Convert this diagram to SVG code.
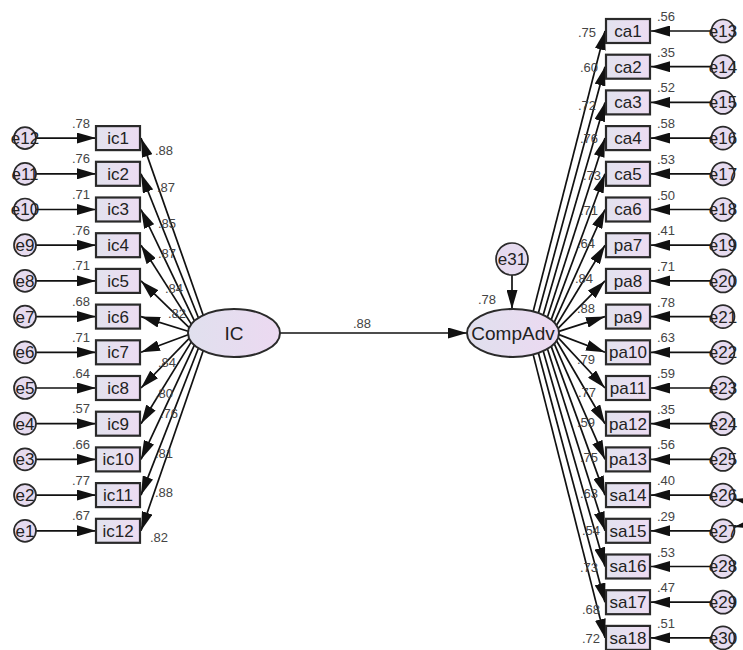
<svg xmlns="http://www.w3.org/2000/svg" width="743" height="650" viewBox="0 0 743 650">
<defs>
<linearGradient id="gb" x1="0" y1="0" x2="1" y2="0"><stop offset="0" stop-color="#e2e2ee"/><stop offset="1" stop-color="#eddcf2"/></linearGradient>
<linearGradient id="ge" x1="0" y1="0" x2="1" y2="0"><stop offset="0" stop-color="#e0e0ee"/><stop offset="1" stop-color="#ecd9f1"/></linearGradient>
<marker id="ah" viewBox="0 0 19 11" refX="19" refY="5.5" markerWidth="19" markerHeight="11" markerUnits="userSpaceOnUse" orient="auto"><path d="M0,0 L19,5.5 L0,11 z" fill="#111"/></marker>
<marker id="ah2" viewBox="0 0 16 9" refX="16" refY="4.5" markerWidth="16" markerHeight="9" markerUnits="userSpaceOnUse" orient="auto-start-reverse"><path d="M0,0 L16,4.5 L0,9 z" fill="#111"/></marker>
</defs>
<style>
.box{fill:url(#gb);stroke:#2a2a2a;stroke-width:2.2}
.err{fill:#e6dbef;stroke:#2a2a2a;stroke-width:1.7}
.lat{fill:url(#ge);stroke:#2a2a2a;stroke-width:2}
.t{font-family:"Liberation Sans",Arial,sans-serif;font-size:17px;fill:#222;text-anchor:middle}
.tl{font-family:"Liberation Sans",Arial,sans-serif;font-size:19px;fill:#222;text-anchor:middle}
.n{font-family:"Liberation Sans",Arial,sans-serif;font-size:13px;fill:#444}
.c{fill:none;stroke:#111;stroke-width:1.7;marker-end:url(#ah)}
</style>
<rect width="743" height="650" fill="#fff"/>

<g id="connectors">
<line class="c" x1="36" y1="138.1" x2="96" y2="138.1"/>
<line class="c" x1="36" y1="173.8" x2="96" y2="173.8"/>
<line class="c" x1="36" y1="209.5" x2="96" y2="209.5"/>
<line class="c" x1="36" y1="245.2" x2="96" y2="245.2"/>
<line class="c" x1="36" y1="280.9" x2="96" y2="280.9"/>
<line class="c" x1="36" y1="316.6" x2="96" y2="316.6"/>
<line class="c" x1="36" y1="352.3" x2="96" y2="352.3"/>
<line class="c" x1="36" y1="388" x2="96" y2="388"/>
<line class="c" x1="36" y1="423.7" x2="96" y2="423.7"/>
<line class="c" x1="36" y1="459.4" x2="96" y2="459.4"/>
<line class="c" x1="36" y1="495.1" x2="96" y2="495.1"/>
<line class="c" x1="36" y1="530.8" x2="96" y2="530.8"/>
<line class="c" x1="203.2" y1="315.2" x2="141" y2="138.1"/>
<line class="c" x1="198.4" y1="317.8" x2="141" y2="173.8"/>
<line class="c" x1="194.4" y1="320.8" x2="141" y2="209.5"/>
<line class="c" x1="191.3" y1="324.1" x2="141" y2="245.2"/>
<line class="c" x1="189.2" y1="327.6" x2="141" y2="280.9"/>
<line class="c" x1="188.1" y1="331.2" x2="141" y2="316.6"/>
<line class="c" x1="188.1" y1="334.8" x2="141" y2="352.3"/>
<line class="c" x1="189.2" y1="338.4" x2="141" y2="388"/>
<line class="c" x1="191.3" y1="341.9" x2="141" y2="423.7"/>
<line class="c" x1="194.4" y1="345.2" x2="141" y2="459.4"/>
<line class="c" x1="198.4" y1="348.2" x2="141" y2="495.1"/>
<line class="c" x1="203.2" y1="350.8" x2="141" y2="530.8"/>
<line class="c" x1="280" y1="333" x2="467" y2="333"/>
<line class="c" x1="512" y1="275" x2="512" y2="309"/>
<line class="c" x1="533.2" y1="311.4" x2="605" y2="31"/>
<line class="c" x1="538.4" y1="313" x2="605" y2="66.7"/>
<line class="c" x1="543.2" y1="314.9" x2="605" y2="102.4"/>
<line class="c" x1="547.5" y1="317.1" x2="605" y2="138.1"/>
<line class="c" x1="551.2" y1="319.6" x2="605" y2="173.8"/>
<line class="c" x1="554.2" y1="322.3" x2="605" y2="209.5"/>
<line class="c" x1="556.5" y1="325.3" x2="605" y2="245.2"/>
<line class="c" x1="558.1" y1="328.3" x2="605" y2="280.9"/>
<line class="c" x1="558.9" y1="331.4" x2="605" y2="316.6"/>
<line class="c" x1="558.9" y1="334.6" x2="605" y2="352.3"/>
<line class="c" x1="558.1" y1="337.7" x2="605" y2="388"/>
<line class="c" x1="556.5" y1="340.7" x2="605" y2="423.7"/>
<line class="c" x1="554.2" y1="343.7" x2="605" y2="459.4"/>
<line class="c" x1="551.2" y1="346.4" x2="605" y2="495.1"/>
<line class="c" x1="547.5" y1="348.9" x2="605" y2="530.8"/>
<line class="c" x1="543.2" y1="351.1" x2="605" y2="566.5"/>
<line class="c" x1="538.4" y1="353" x2="605" y2="602.2"/>
<line class="c" x1="533.2" y1="354.6" x2="605" y2="637.9"/>
<line class="c" x1="711.5" y1="31" x2="651" y2="31"/>
<line class="c" x1="711.5" y1="66.7" x2="651" y2="66.7"/>
<line class="c" x1="711.5" y1="102.4" x2="651" y2="102.4"/>
<line class="c" x1="711.5" y1="138.1" x2="651" y2="138.1"/>
<line class="c" x1="711.5" y1="173.8" x2="651" y2="173.8"/>
<line class="c" x1="711.5" y1="209.5" x2="651" y2="209.5"/>
<line class="c" x1="711.5" y1="245.2" x2="651" y2="245.2"/>
<line class="c" x1="711.5" y1="280.9" x2="651" y2="280.9"/>
<line class="c" x1="711.5" y1="316.6" x2="651" y2="316.6"/>
<line class="c" x1="711.5" y1="352.3" x2="651" y2="352.3"/>
<line class="c" x1="711.5" y1="388" x2="651" y2="388"/>
<line class="c" x1="711.5" y1="423.7" x2="651" y2="423.7"/>
<line class="c" x1="711.5" y1="459.4" x2="651" y2="459.4"/>
<line class="c" x1="711.5" y1="495.1" x2="651" y2="495.1"/>
<line class="c" x1="711.5" y1="530.8" x2="651" y2="530.8"/>
<line class="c" x1="711.5" y1="566.5" x2="651" y2="566.5"/>
<line class="c" x1="711.5" y1="602.2" x2="651" y2="602.2"/>
<line class="c" x1="711.5" y1="637.9" x2="651" y2="637.9"/>
<path d="M734,499 C760,504 760,522 734,527" fill="none" stroke="#111" stroke-width="1.7" marker-start="url(#ah2)" marker-end="url(#ah2)"/>
</g>

<g id="loading-labels" class="n">
<text x="155" y="155">.88</text>
<text x="157" y="192">.87</text>
<text x="158" y="228">.85</text>
<text x="158" y="258">.87</text>
<text x="165" y="293">.84</text>
<text x="168" y="318">.82</text>
<text x="158" y="367">.84</text>
<text x="155" y="398">.80</text>
<text x="160" y="418">.76</text>
<text x="155" y="458">.81</text>
<text x="155" y="497">.88</text>
<text x="150" y="542">.82</text>
<text x="353" y="328">.88</text>
<text x="478" y="304">.78</text>
<text x="578" y="37">.75</text>
<text x="580" y="72">.60</text>
<text x="578" y="110">.72</text>
<text x="580" y="143">.76</text>
<text x="583" y="180">.73</text>
<text x="580" y="215">.71</text>
<text x="577" y="248">.64</text>
<text x="575" y="283">.84</text>
<text x="577" y="313">.88</text>
<text x="577" y="364">.79</text>
<text x="578" y="397">.77</text>
<text x="577" y="427">.59</text>
<text x="580" y="462">.75</text>
<text x="580" y="498">.63</text>
<text x="582" y="535">.54</text>
<text x="580" y="572">.73</text>
<text x="582" y="614">.68</text>
<text x="582" y="643">.72</text>
</g>

<g id="IC"><ellipse class="lat" cx="234" cy="333" rx="46" ry="24"/><text class="tl" x="234" y="340">IC</text></g>
<g id="CompAdv"><ellipse class="lat" cx="513" cy="333" rx="46" ry="24"/><text class="tl" x="513" y="340">CompAdv</text></g>
<g id="e31"><circle class="err" cx="512" cy="259" r="16"/><text class="t" x="512" y="265">e31</text></g>

<g id="ic1"><rect class="box" x="96" y="126.1" width="44" height="24"/><text class="t" x="118" y="144">ic1</text><text class="n" x="72" y="127.6">.78</text></g>
<g id="ic2"><rect class="box" x="96" y="161.8" width="44" height="24"/><text class="t" x="118" y="179.7">ic2</text><text class="n" x="72" y="163.3">.76</text></g>
<g id="ic3"><rect class="box" x="96" y="197.5" width="44" height="24"/><text class="t" x="118" y="215.4">ic3</text><text class="n" x="72" y="199">.71</text></g>
<g id="ic4"><rect class="box" x="96" y="233.2" width="44" height="24"/><text class="t" x="118" y="251.1">ic4</text><text class="n" x="72" y="234.7">.76</text></g>
<g id="ic5"><rect class="box" x="96" y="268.9" width="44" height="24"/><text class="t" x="118" y="286.8">ic5</text><text class="n" x="72" y="270.4">.71</text></g>
<g id="ic6"><rect class="box" x="96" y="304.6" width="44" height="24"/><text class="t" x="118" y="322.5">ic6</text><text class="n" x="72" y="306.1">.68</text></g>
<g id="ic7"><rect class="box" x="96" y="340.3" width="44" height="24"/><text class="t" x="118" y="358.2">ic7</text><text class="n" x="72" y="341.8">.71</text></g>
<g id="ic8"><rect class="box" x="96" y="376" width="44" height="24"/><text class="t" x="118" y="393.9">ic8</text><text class="n" x="72" y="377.5">.64</text></g>
<g id="ic9"><rect class="box" x="96" y="411.7" width="44" height="24"/><text class="t" x="118" y="429.6">ic9</text><text class="n" x="72" y="413.2">.57</text></g>
<g id="ic10"><rect class="box" x="96" y="447.4" width="44" height="24"/><text class="t" x="118" y="465.3">ic10</text><text class="n" x="72" y="448.9">.66</text></g>
<g id="ic11"><rect class="box" x="96" y="483.1" width="44" height="24"/><text class="t" x="118" y="501">ic11</text><text class="n" x="72" y="484.6">.77</text></g>
<g id="ic12"><rect class="box" x="96" y="518.8" width="44" height="24"/><text class="t" x="118" y="536.7">ic12</text><text class="n" x="72" y="520.3">.67</text></g>

<g id="e12"><circle class="err" cx="25" cy="138.1" r="11"/><text class="t" x="25" y="144">e12</text></g>
<g id="e11"><circle class="err" cx="25" cy="173.8" r="11"/><text class="t" x="25" y="179.7">e11</text></g>
<g id="e10"><circle class="err" cx="25" cy="209.5" r="11"/><text class="t" x="25" y="215.4">e10</text></g>
<g id="e9"><circle class="err" cx="25" cy="245.2" r="11"/><text class="t" x="25" y="251.1">e9</text></g>
<g id="e8"><circle class="err" cx="25" cy="280.9" r="11"/><text class="t" x="25" y="286.8">e8</text></g>
<g id="e7"><circle class="err" cx="25" cy="316.6" r="11"/><text class="t" x="25" y="322.5">e7</text></g>
<g id="e6"><circle class="err" cx="25" cy="352.3" r="11"/><text class="t" x="25" y="358.2">e6</text></g>
<g id="e5"><circle class="err" cx="25" cy="388" r="11"/><text class="t" x="25" y="393.9">e5</text></g>
<g id="e4"><circle class="err" cx="25" cy="423.7" r="11"/><text class="t" x="25" y="429.6">e4</text></g>
<g id="e3"><circle class="err" cx="25" cy="459.4" r="11"/><text class="t" x="25" y="465.3">e3</text></g>
<g id="e2"><circle class="err" cx="25" cy="495.1" r="11"/><text class="t" x="25" y="501">e2</text></g>
<g id="e1"><circle class="err" cx="25" cy="530.8" r="11"/><text class="t" x="25" y="536.7">e1</text></g>

<g id="ca1"><rect class="box" x="606" y="19" width="44" height="24"/><text class="t" x="628" y="36.9">ca1</text><text class="n" x="657" y="21">.56</text></g>
<g id="ca2"><rect class="box" x="606" y="54.7" width="44" height="24"/><text class="t" x="628" y="72.6">ca2</text><text class="n" x="657" y="56.7">.35</text></g>
<g id="ca3"><rect class="box" x="606" y="90.4" width="44" height="24"/><text class="t" x="628" y="108.3">ca3</text><text class="n" x="657" y="92.4">.52</text></g>
<g id="ca4"><rect class="box" x="606" y="126.1" width="44" height="24"/><text class="t" x="628" y="144">ca4</text><text class="n" x="657" y="128.1">.58</text></g>
<g id="ca5"><rect class="box" x="606" y="161.8" width="44" height="24"/><text class="t" x="628" y="179.7">ca5</text><text class="n" x="657" y="163.8">.53</text></g>
<g id="ca6"><rect class="box" x="606" y="197.5" width="44" height="24"/><text class="t" x="628" y="215.4">ca6</text><text class="n" x="657" y="199.5">.50</text></g>
<g id="pa7"><rect class="box" x="606" y="233.2" width="44" height="24"/><text class="t" x="628" y="251.1">pa7</text><text class="n" x="657" y="235.2">.41</text></g>
<g id="pa8"><rect class="box" x="606" y="268.9" width="44" height="24"/><text class="t" x="628" y="286.8">pa8</text><text class="n" x="657" y="270.9">.71</text></g>
<g id="pa9"><rect class="box" x="606" y="304.6" width="44" height="24"/><text class="t" x="628" y="322.5">pa9</text><text class="n" x="657" y="306.6">.78</text></g>
<g id="pa10"><rect class="box" x="606" y="340.3" width="44" height="24"/><text class="t" x="628" y="358.2">pa10</text><text class="n" x="657" y="342.3">.63</text></g>
<g id="pa11"><rect class="box" x="606" y="376" width="44" height="24"/><text class="t" x="628" y="393.9">pa11</text><text class="n" x="657" y="378">.59</text></g>
<g id="pa12"><rect class="box" x="606" y="411.7" width="44" height="24"/><text class="t" x="628" y="429.6">pa12</text><text class="n" x="657" y="413.7">.35</text></g>
<g id="pa13"><rect class="box" x="606" y="447.4" width="44" height="24"/><text class="t" x="628" y="465.3">pa13</text><text class="n" x="657" y="449.4">.56</text></g>
<g id="sa14"><rect class="box" x="606" y="483.1" width="44" height="24"/><text class="t" x="628" y="501">sa14</text><text class="n" x="657" y="485.1">.40</text></g>
<g id="sa15"><rect class="box" x="606" y="518.8" width="44" height="24"/><text class="t" x="628" y="536.7">sa15</text><text class="n" x="657" y="520.8">.29</text></g>
<g id="sa16"><rect class="box" x="606" y="554.5" width="44" height="24"/><text class="t" x="628" y="572.4">sa16</text><text class="n" x="657" y="556.5">.53</text></g>
<g id="sa17"><rect class="box" x="606" y="590.2" width="44" height="24"/><text class="t" x="628" y="608.1">sa17</text><text class="n" x="657" y="592.2">.47</text></g>
<g id="sa18"><rect class="box" x="606" y="625.9" width="44" height="24"/><text class="t" x="628" y="643.8">sa18</text><text class="n" x="657" y="627.9">.51</text></g>

<g id="e13"><circle class="err" cx="723" cy="31" r="11.5"/><text class="t" x="723" y="36.9">e13</text></g>
<g id="e14"><circle class="err" cx="723" cy="66.7" r="11.5"/><text class="t" x="723" y="72.6">e14</text></g>
<g id="e15"><circle class="err" cx="723" cy="102.4" r="11.5"/><text class="t" x="723" y="108.3">e15</text></g>
<g id="e16"><circle class="err" cx="723" cy="138.1" r="11.5"/><text class="t" x="723" y="144">e16</text></g>
<g id="e17"><circle class="err" cx="723" cy="173.8" r="11.5"/><text class="t" x="723" y="179.7">e17</text></g>
<g id="e18"><circle class="err" cx="723" cy="209.5" r="11.5"/><text class="t" x="723" y="215.4">e18</text></g>
<g id="e19"><circle class="err" cx="723" cy="245.2" r="11.5"/><text class="t" x="723" y="251.1">e19</text></g>
<g id="e20"><circle class="err" cx="723" cy="280.9" r="11.5"/><text class="t" x="723" y="286.8">e20</text></g>
<g id="e21"><circle class="err" cx="723" cy="316.6" r="11.5"/><text class="t" x="723" y="322.5">e21</text></g>
<g id="e22"><circle class="err" cx="723" cy="352.3" r="11.5"/><text class="t" x="723" y="358.2">e22</text></g>
<g id="e23"><circle class="err" cx="723" cy="388" r="11.5"/><text class="t" x="723" y="393.9">e23</text></g>
<g id="e24"><circle class="err" cx="723" cy="423.7" r="11.5"/><text class="t" x="723" y="429.6">e24</text></g>
<g id="e25"><circle class="err" cx="723" cy="459.4" r="11.5"/><text class="t" x="723" y="465.3">e25</text></g>
<g id="e26"><circle class="err" cx="723" cy="495.1" r="11.5"/><text class="t" x="723" y="501">e26</text></g>
<g id="e27"><circle class="err" cx="723" cy="530.8" r="11.5"/><text class="t" x="723" y="536.7">e27</text></g>
<g id="e28"><circle class="err" cx="723" cy="566.5" r="11.5"/><text class="t" x="723" y="572.4">e28</text></g>
<g id="e29"><circle class="err" cx="723" cy="602.2" r="11.5"/><text class="t" x="723" y="608.1">e29</text></g>
<g id="e30"><circle class="err" cx="723" cy="637.9" r="11.5"/><text class="t" x="723" y="643.8">e30</text></g>
</svg>
